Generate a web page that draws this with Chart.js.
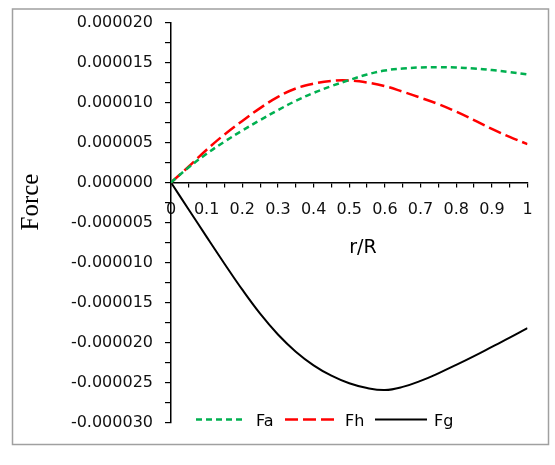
<!DOCTYPE html>
<html>
<head>
<meta charset="utf-8">
<script src="https://cdn.jsdelivr.net/npm/chart.js@4.4.1/dist/chart.umd.min.js"></script>
<style>
html,body{margin:0;padding:0;background:#fff;}
#wrap{width:555px;height:465px;}
</style>
</head>
<body>
<div id="wrap"><canvas id="c" width="555" height="465"></canvas></div>
<script>
// r/R positions
const rR = [0, 0.05, 0.1, 0.15, 0.2, 0.25, 0.3, 0.35, 0.4, 0.45, 0.5, 0.55, 0.6, 0.65, 0.7, 0.75, 0.8, 0.85, 0.9, 0.95, 1.0];
// series values, in units of 1e-6
const Fa = [0, 1.9, 3.6, 5.1, 6.5, 7.8, 9.05, 10.2, 11.2, 12.05, 12.8, 13.5, 14.0, 14.25, 14.38, 14.42, 14.38, 14.25, 14.05, 13.8, 13.5];
const Fh = [0, 2.0, 4.1, 6.0, 7.7, 9.3, 10.7, 11.75, 12.35, 12.7, 12.75, 12.5, 12.05, 11.35, 10.6, 9.8, 8.85, 7.8, 6.7, 5.7, 4.8];
const Fg = [0, -3.4, -6.8, -10.15, -13.4, -16.4, -19.0, -21.15, -22.85, -24.15, -25.1, -25.7, -25.95, -25.55, -24.8, -23.85, -22.8, -21.7, -20.55, -19.4, -18.2];
const unit = 1e-6;
const seriesNames = ['Fa', 'Fh', 'Fg'];
const xTitle = 'r/R';
const yTitle = 'Force';

const pts = arr => rR.map((x, i) => ({x: x, y: arr[i] * unit}));
const tickFont = {family: 'DejaVu Sans', size: 16};

const decor = {
  id: 'decor',
  beforeDraw(chart) {
    const ctx = chart.ctx;
    ctx.save();
    ctx.fillStyle = '#fff';
    ctx.fillRect(0, 0, chart.width, chart.height);
    ctx.restore();
  },
  afterDraw(chart) {
    const ctx = chart.ctx;
    ctx.save();
    // outer frame
    ctx.strokeStyle = '#a0a0a0';
    ctx.lineWidth = 1.5;
    ctx.strokeRect(12.5, 9, 536, 435.5);
    // y title
    ctx.fillStyle = '#000';
    ctx.font = '25px "Liberation Serif"';
    ctx.textAlign = 'center';
    ctx.textBaseline = 'middle';
    ctx.translate(31, 202);
    ctx.rotate(-Math.PI / 2);
    ctx.fillText(yTitle, 0, 0);
    ctx.setTransform(1, 0, 0, 1, 0, 0);
    // x title
    ctx.font = '19px "DejaVu Sans"';
    ctx.textAlign = 'center';
    ctx.textBaseline = 'alphabetic';
    ctx.fillText(xTitle, 363, 253);
    // legend
    const items = [
      {x0: 196, x1: 246, tx: 256},
      {x0: 285, x1: 338, tx: 345},
      {x0: 375, x1: 427, tx: 434}
    ];
    ctx.font = '16px "DejaVu Sans"';
    ctx.textAlign = 'left';
    chart.data.datasets.forEach((ds, i) => {
      const it = items[i];
      ctx.strokeStyle = ds.borderColor;
      ctx.lineWidth = ds.borderWidth;
      ctx.setLineDash(ds.borderDash || []);
      ctx.beginPath();
      ctx.moveTo(it.x0, 419.5);
      ctx.lineTo(it.x1, 419.5);
      ctx.stroke();
      ctx.setLineDash([]);
      ctx.fillStyle = '#000';
      ctx.fillText(ds.label, it.tx, 425.5);
    });
    ctx.restore();
  }
};

new Chart(document.getElementById('c'), {
  type: 'line',
  data: {
    datasets: [
      {label: seriesNames[0], data: pts(Fa), borderColor: '#00b050', borderWidth: 2.5, borderDash: [6, 4], pointRadius: 0, tension: 0.4, fill: false},
      {label: seriesNames[1], data: pts(Fh), borderColor: '#ff0000', borderWidth: 2.5, borderDash: [13, 5], pointRadius: 0, tension: 0.4, fill: false},
      {label: seriesNames[2], data: pts(Fg), borderColor: '#000000', borderWidth: 2, pointRadius: 0, tension: 0.4, fill: false}
    ]
  },
  options: {
    responsive: false,
    animation: false,
    layout: {padding: {left: 0, top: 22.5, right: 27.5, bottom: 42.5}},
    plugins: {legend: {display: false}, tooltip: {enabled: false}},
    scales: {
      x: {
        type: 'linear',
        min: 0, max: 1,
        position: {y: 0},
        grid: {drawOnChartArea: false, drawTicks: true, tickLength: 4, color: '#000', lineWidth: 1.2},
        border: {display: true, color: '#000', width: 1.5},
        ticks: {
          stepSize: 0.05, autoSkip: false, maxRotation: 0, padding: 14,
          color: '#111', font: tickFont,
          callback: v => (Math.round(v * 100) % 10 === 0) ? String(Math.round(v * 10) / 10) : ''
        }
      },
      y: {
        type: 'linear',
        min: -0.00003, max: 0.00002,
        grid: {drawOnChartArea: false, drawTicks: true, tickLength: 6, color: '#000', lineWidth: 1.2},
        border: {display: true, color: '#000', width: 1.5},
        afterFit: s => { s.width = 171; },
        ticks: {
          stepSize: 0.0000025, autoSkip: false, padding: 12,
          color: '#111', font: tickFont,
          callback: v => (Math.round(v * 1e7) % 50 === 0) ? (Math.round(v * 1e6) / 1e6).toFixed(6) : ''
        }
      }
    }
  },
  plugins: [decor]
});
</script>
</body>
</html>
